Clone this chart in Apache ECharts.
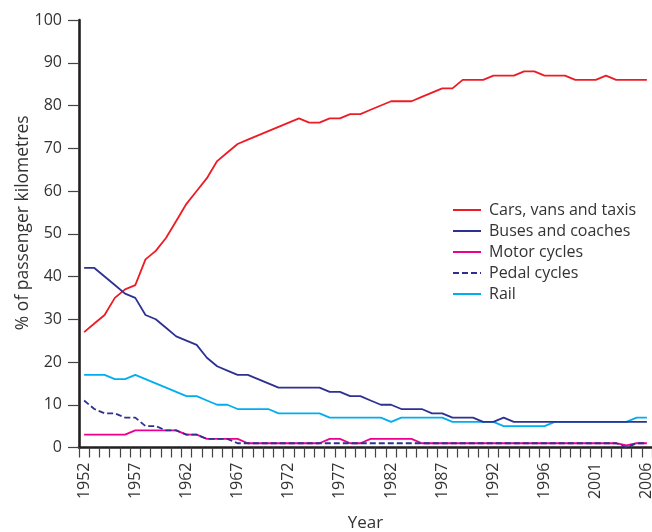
<!DOCTYPE html>
<html>
<head>
<meta charset="utf-8">
<script src="https://cdn.jsdelivr.net/npm/echarts@6/dist/echarts.min.js"></script>
<style>
html,body{margin:0;padding:0;background:#fff;}
#chart{width:652px;height:532px;}
</style>
</head>
<body>
<div id="chart"></div>
<script>
// Categories (1993 appears twice in the source series)
const years = ['1952','1953','1954','1955','1956','1957','1958','1959','1960','1961',
  '1962','1963','1964','1965','1966','1967','1968','1969','1970','1971',
  '1972','1973','1974','1975','1976','1977','1978','1979','1980','1981',
  '1982','1983','1984','1985','1986','1987','1988','1989','1990','1991',
  '1992','1993','1993 ','1994','1995','1996','1997','1998','1999','2000',
  '2001','2002','2003','2004','2005','2006'];

const carsVansTaxis = [27,29,31,35,37,38,44,46,49,53,
  57,60,63,67,69,71,72,73,74,75,
  76,77,76,76,77,77,78,78,79,80,
  81,81,81,82,83,84,84,86,86,86,
  87,87,87,88,88,87,87,87,86,86,
  86,87,86,86,86,86];

const busesCoaches = [42,42,40,38,36,35,31,30,28,26,
  25,24,21,19,18,17,17,16,15,14,
  14,14,14,14,13,13,12,12,11,10,
  10,9,9,9,8,8,7,7,7,6,
  6,7,6,6,6,6,6,6,6,6,
  6,6,6,6,6,6];

const motorCycles = [3,3,3,3,3,4,4,4,4,4,
  3,3,2,2,2,2,1,1,1,1,
  1,1,1,1,2,2,1,1,2,2,
  2,2,2,1,1,1,1,1,1,1,
  1,1,1,1,1,1,1,1,1,1,
  1,1,1,0.5,1,1];

const pedalCycles = [11,9,8,8,7,7,5,5,4,4,
  3,3,2,2,2,1,1,1,1,1,
  1,1,1,1,1,1,1,1,1,1,
  1,1,1,1,1,1,1,1,1,1,
  1,1,1,1,1,1,1,1,1,1,
  1,1,1,0,1,1];

const rail = [17,17,17,16,16,17,16,15,14,13,
  12,12,11,10,10,9,9,9,9,8,
  8,8,8,8,7,7,7,7,7,7,
  6,7,7,7,7,7,6,6,6,6,
  6,5,5,5,5,5,6,6,6,6,
  6,6,6,6,7,7];

const seriesNames = ['Cars, vans and taxis','Buses and coaches','Motor cycles','Pedal cycles','Rail'];
const yTicks = [0,10,20,30,40,50,60,70,80,90,100];

const FONT = '"Open Sans", "Noto Sans", sans-serif';
const TXT = '#333333';
const AX = '#231f20';

const chart = echarts.init(document.getElementById('chart'), null, {renderer:'canvas'});

function line(name, data, color, dashed, z){
  return {
    name: name, type: 'line', data: data, symbol: 'none', z: z,
    lineStyle: {color: color, width: 1.8, type: dashed ? [6,3] : 'solid'},
    itemStyle: {color: color, opacity: 0},
    emphasis: {disabled: true},
    animation: false
  };
}

chart.setOption({
  animation: false,
  backgroundColor: '#ffffff',
  textStyle: {fontFamily: FONT},
  grid: {left: 79, right: 0, top: 20, bottom: 84.5, containLabel: false, outerBoundsMode: 'none'},
  legend: {
    data: seriesNames,
    orient: 'vertical',
    left: 452, top: 202,
    padding: 0,
    itemWidth: 28, itemHeight: 14, itemGap: 5,
    itemStyle: {opacity: 0},
    textStyle: {fontSize: 16, color: TXT, fontFamily: FONT, padding: [0,0,0,3]},
    selectedMode: false
  },
  xAxis: {
    type: 'category',
    data: years,
    boundaryGap: true,
    name: 'Year',
    nameLocation: 'middle',
    nameGap: 67,
    nameMoveOverlap: false,
    nameTextStyle: {fontSize: 17, color: TXT, fontFamily: FONT},
    axisLine: {lineStyle: {color: AX, width: 2.6}},
    axisTick: {show: true, interval: 0, length: 10, lineStyle: {color: '#444', width: 1.2}},
    axisLabel: {interval: 4, rotate: 90, margin: 15, fontSize: 16, color: TXT, fontFamily: FONT},
    splitLine: {show: false}
  },
  yAxis: {
    type: 'value',
    min: yTicks[0], max: yTicks[yTicks.length-1], interval: 10,
    name: '% of passenger kilometres',
    nameLocation: 'middle',
    nameGap: 47,
    nameMoveOverlap: false,
    nameTextStyle: {fontSize: 17.5, color: TXT, fontFamily: FONT, padding: [0,0,0,22]},
    axisLine: {show: true, lineStyle: {color: AX, width: 2.6}},
    axisTick: {show: true, length: 11, lineStyle: {color: '#444', width: 1.2}},
    axisLabel: {margin: 17, fontSize: 16, color: TXT, fontFamily: FONT},
    splitLine: {show: false}
  },
  series: [
    line(seriesNames[4], rail, '#00aeef', false, 2),
    line(seriesNames[0], carsVansTaxis, '#ed1c24', false, 3),
    line(seriesNames[1], busesCoaches, '#2e3192', false, 4),
    line(seriesNames[2], motorCycles, '#ec008c', false, 5),
    line(seriesNames[3], pedalCycles, '#2e3192', true, 6)
  ]
});
</script>
</body>
</html>
